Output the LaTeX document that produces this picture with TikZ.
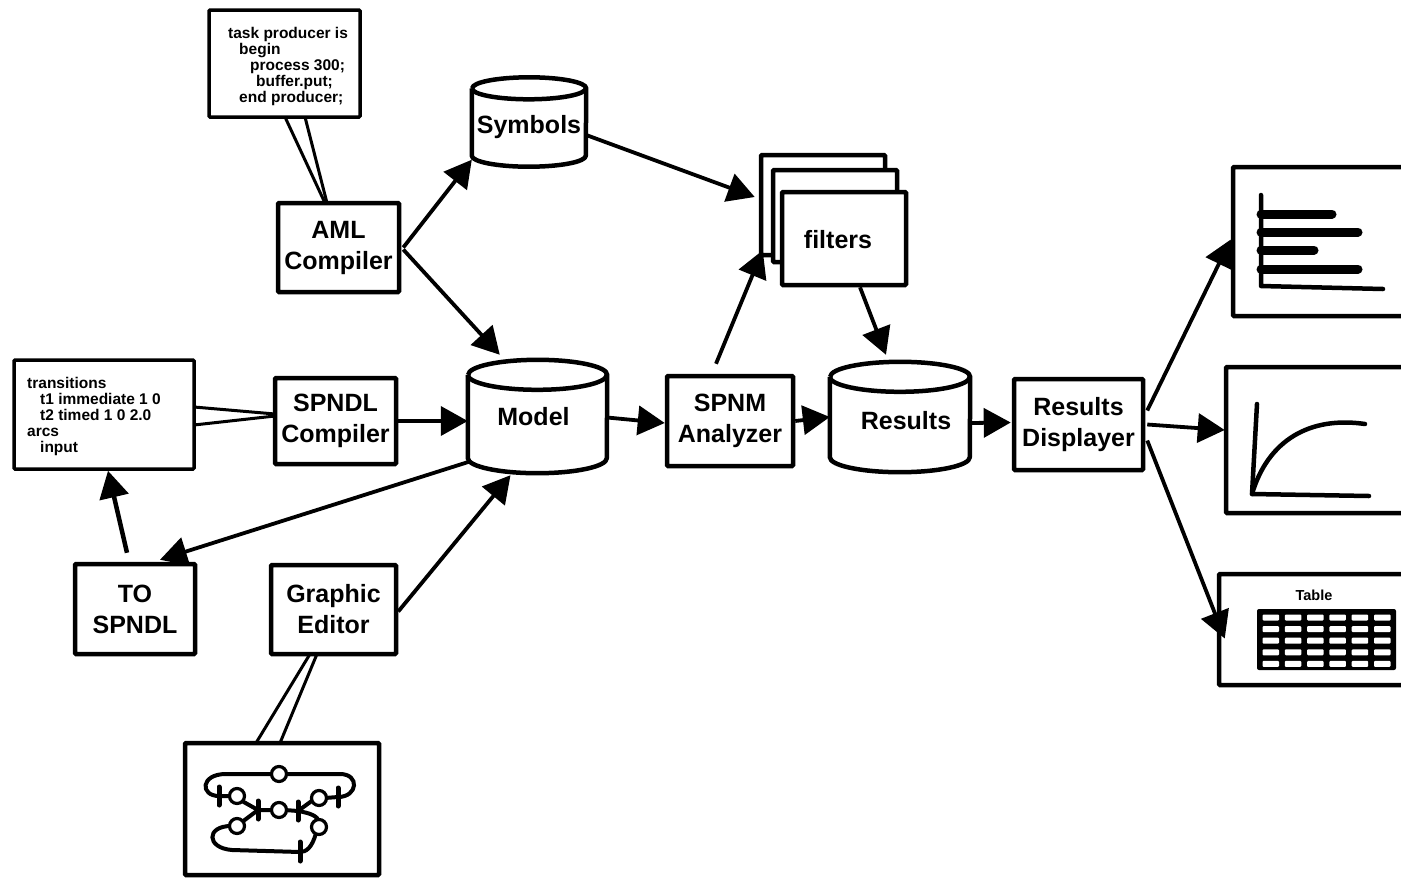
\documentclass[tikz,border=0pt]{standalone}
\usepackage{fontspec}
\setmainfont{Liberation Sans}
\usetikzlibrary{arrows.meta,calc}
\tikzset{
  thickbox/.style={draw=black,line width=4.5pt,fill=white,rounded corners=1pt,inner sep=0pt,align=center,font=\labelfont},
  codebox/.style={draw=black,line width=3.5pt,fill=white,rounded corners=1pt,inner sep=0pt},
  cyl/.style={inner sep=0pt,align=center,font=\labelfont},
  cylline/.style={draw=black,line width=4.5pt,line join=round},
  arr/.style={line width=3.8pt,-{Triangle[length=27pt,width=29pt]},black},
  link/.style={line width=3pt,black},
  codetext/.style={inner sep=0pt,align=left,font=\codefont,anchor=north west},
  net/.style={line width=4pt,black,line cap=round},
  place/.style={circle,draw=black,fill=white,line width=3.2pt,minimum size=15pt,inner sep=0pt},
  trans/.style={line width=5pt,black,line cap=round},
  bar/.style={line width=9pt,black,line cap=round},
  axis/.style={line width=4.5pt,black,line cap=round,line join=round},
}
\newcommand{\labelfont}{\bfseries\fontsize{25}{31}\selectfont}
\newcommand{\codefont}{\bfseries\fontsize{15.5}{16}\selectfont}
\newcommand{\cylnode}[7]{%
  \node[cyl,minimum width=#3pt,minimum height=#4pt] (#1) at (#2) {};
  \draw[cylline,fill=white] ([yshift=-#5pt]#1.north west) -- ([yshift=#5pt]#1.south west)
     arc[start angle=180,end angle=360,x radius={#3/2*1pt},y radius=#5pt]
     -- ([yshift=-#5pt]#1.north east)
     arc[start angle=0,end angle=180,x radius={#3/2*1pt},y radius=#5pt];
  \draw[cylline] ([yshift=-#5pt]#1.north west)
     arc[start angle=180,end angle=360,x radius={#3/2*1pt},y radius=#5pt];
  \node[cyl] (#1label) at ([#6]#1.center) {#7};
}
\begin{document}
\begin{tikzpicture}[x=1pt,y=-1pt]
\useasboundingbox (0,0) rectangle (1401,879);
\clip (0,0) rectangle (1401,879);
\fill[white] (0,0) rectangle (1401,879);

% links behind boxes
\coordinate (c1a) at (285,117); \coordinate (c1b) at (305,117);
\coordinate (c2a) at (194,407); \coordinate (c2b) at (194,425);
\coordinate (g1) at (256,743); \coordinate (g2) at (280,743);
\coordinate (e1) at (325,203);  \coordinate (e2) at (327,203);
\coordinate (e3) at (275,414);  \coordinate (e4) at (275,416);
\coordinate (e5) at (310,654);  \coordinate (e6) at (317,654);
\draw[link] (c1a) -- (e1); \draw[link] (c1b) -- (e2);
\draw[link] (c2a) -- (e3); \draw[link] (c2b) -- (e4);
\draw[link] (g1) -- (e5); \draw[link] (g2) -- (e6);

% code boxes
\node[codebox,minimum width=151pt,minimum height=107pt] (code1) at (284.5,63.5) {};
\node[codetext] (code1text) at (228,27) {task producer is\\\hspace*{11pt}begin\\\hspace*{22pt}process 300;\\\hspace*{28pt}buffer.put;\\\hspace*{11pt}end producer;};
\node[codebox,minimum width=180pt,minimum height=109pt] (code2) at (104,414.5) {};
\node[codetext] (code2text) at (27,377) {transitions\\\hspace*{13pt}t1 immediate 1 0\\\hspace*{13pt}t2 timed 1 0 2.0\\arcs\\\hspace*{13pt}input};

% process boxes
\node[thickbox,minimum width=121pt,minimum height=89pt] (aml) at (338.5,247.5) {AML\\Compiler};
\node[thickbox,minimum width=121pt,minimum height=86pt] (spndl) at (335.5,421) {SPNDL\\Compiler};
\node[thickbox,minimum width=120pt,minimum height=90pt] (tospndl) at (135,609) {TO\\SPNDL};
\node[thickbox,minimum width=125pt,minimum height=89pt] (graphic) at (333.5,609.5) {Graphic\\Editor};
\node[thickbox,minimum width=126pt,minimum height=90pt] (spnm) at (730,421) {SPNM\\Analyzer};
\node[thickbox,minimum width=129pt,minimum height=91pt] (rd) at (1078.5,424.5) {Results\\Displayer};

% stores
\cylnode{sym}{529,122}{114}{89}{11}{yshift=-5pt}{Symbols}
\cylnode{model}{537.5,416.5}{139}{113}{15}{xshift=-4pt}{Model}
\cylnode{res}{900,417}{140}{110}{15}{xshift=6pt,yshift=-4pt}{Results}

% filters stack
\node[codebox,line width=4.5pt,minimum width=124pt,minimum height=100pt] (f1) at (823,205) {};
\node[codebox,line width=4.5pt,minimum width=124pt,minimum height=92pt] (f2) at (835,216) {};
\node[thickbox,minimum width=124pt,minimum height=93pt] (filters) at (844,238.5) {};
\node[cyl] (filterslabel) at (838,240) {filters};

% graph box
\node[codebox,line width=4.5pt,minimum width=194pt,minimum height=132pt] (graph) at (282,809) {};
\draw[net] (273,774) -- (226,774) .. controls (200,774) and (200,796) .. (219,796) -- (231,796);
\draw[net] (285,774) -- (340,774) .. controls (360,774) and (358,797) .. (338,797) -- (325,798);
\draw[net] (242,801) -- (258,810) -- (273,810);
\draw[net] (285,810) -- (298,811) -- (313,800);
\draw[net] (298,811) .. controls (310,813) and (318,816) .. (319,822);
\draw[net] (316,833) .. controls (312,848) and (306,852) .. (300,852) -- (232,850) .. controls (206,848) and (206,826) .. (231,826);
\draw[net] (242,822) -- (258,810);
\node[place] (p1) at (279,774) {};
\node[place] (p2) at (237,796) {};
\node[place] (p3) at (279,810) {};
\node[place] (p4) at (319,798) {};
\node[place] (p5) at (319,827) {};
\node[place] (p6) at (237,826) {};
\draw[trans] (219,787) -- (219,805);
\draw[trans] (258,801) -- (258,819);
\draw[trans] (298,802) -- (298,820);
\draw[trans] (338,788) -- (338,806);
\draw[trans] (300,842) -- (300,861);

% output boxes
\node[thickbox,minimum width=190pt,minimum height=149pt] (out1) at (1328,241.5) {};
\node[thickbox,minimum width=190pt,minimum height=146pt] (out2) at (1321,440) {};
\node[thickbox,minimum width=190pt,minimum height=111pt] (out3) at (1314,629.5) {};

% bar chart
\draw[axis] (1261,195) -- (1261,286) -- (1383,289);
\draw[bar] (1261,214) -- (1332,214);
\draw[bar] (1261,232) -- (1358,232);
\draw[bar] (1261,250) -- (1314,250);
\draw[bar] (1261,269) -- (1358,269);

% line chart
\draw[axis] (1257,404) -- (1252,494) -- (1369,496);
\draw[axis] (1252,494) .. controls (1268,440) and (1310,416) .. (1365,424);

% table
\node[inner sep=0pt,font=\bfseries\fontsize{14.5}{15}\selectfont] (tabletitle) at (1314,595) {Table};
\fill[black,rounded corners=2pt] (1257,609) rectangle (1396,670);
\foreach \c in {0,...,5} \foreach \r in {0,...,4}
  \fill[white,rounded corners=1pt] (1262.5+22.3*\c,614.5+11.6*\r) rectangle ++(16.5,6);

% arrows
\draw[arr] ([xshift=2pt]aml.east) -- ([yshift=7pt]sym.south west);
\draw[arr] ([xshift=2pt,yshift=-2pt]aml.east) -- ([xshift=32pt,yshift=5pt]model.north west);
\draw[arr] ([yshift=-13pt]sym.east) -- ([xshift=-4pt,yshift=8pt]f1.west);
\draw[arr] ([xshift=-14pt,yshift=10pt]spnm.north) -- ([xshift=4pt,yshift=7pt]f1.south west);
\draw[arr] ([xshift=16pt]filters.south) -- ([xshift=-14pt,yshift=7pt]res.north);
\draw[arr] (spndl.east) -- ([yshift=-4.5pt]model.west);
\draw[arr] ([yshift=-1pt]model.east) -- ([yshift=-2pt]spnm.west);
\draw[arr] (spnm.east) -- (res.west);
\draw[arr] ([yshift=-6pt]res.east) -- ([xshift=-1pt,yshift=2pt]rd.west);
\draw[arr] ([xshift=2pt,yshift=-45pt]model.west) -- ([xshift=25pt,yshift=2pt]tospndl.north);
\draw[arr,line width=4.5pt] ([xshift=-8pt,yshift=9pt]tospndl.north) -- ([xshift=4pt]code2.south);
\draw[arr] ([yshift=-2pt]graphic.east) -- ([xshift=-27pt,yshift=-2pt]model.south);
\draw[arr] ([xshift=2pt,yshift=14pt]rd.east) -- ([yshift=2pt]out1.west);
\draw[arr] ([xshift=2pt]rd.east) -- ([xshift=1pt,yshift=10pt]out2.west);
\draw[arr] ([xshift=2pt,yshift=-16pt]rd.east) -- ([xshift=8pt,yshift=-9pt]out3.west);
\end{tikzpicture}
\end{document}
